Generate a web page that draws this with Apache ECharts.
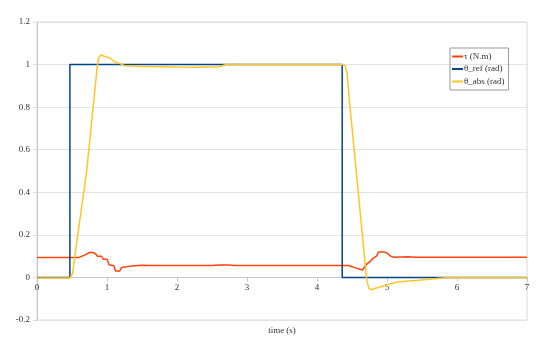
<!DOCTYPE html>
<html>
<head>
<meta charset="utf-8">
<script src="https://cdn.jsdelivr.net/npm/echarts@6/dist/echarts.min.js"></script>
<style>
  html, body { margin: 0; padding: 0; background: #fff; }
  #chart { width: 550px; height: 338px; }
</style>
</head>
<body>
<div id="chart"></div>
<script>
// step reference angle
const tRef = [0, 0.47, 0.47, 4.36, 4.36, 7];
const thetaRef = [0, 0, 1, 1, 0, 0];

// measured angle
const tAbs = [0, 0.47, 0.49, 0.51, 0.54, 0.71, 0.86, 0.88, 0.91, 0.95, 1.0, 1.05, 1.08, 1.11, 1.16, 1.2, 1.26, 1.5, 2.0, 2.3, 2.6, 2.7, 3.0, 4.37,
  4.4, 4.43, 4.46, 4.71, 4.74, 4.77, 4.82, 4.9, 5.0, 5.05, 5.15, 5.3, 5.45, 5.6, 5.75, 5.85, 7];
const thetaAbs = [-0.003, -0.003, 0.0, 0.02, 0.1, 0.5, 0.99, 1.03, 1.045, 1.04, 1.035, 1.03, 1.02, 1.012, 1.008, 1.003, 0.994, 0.991, 0.989, 0.988, 0.99, 1.0, 1.0, 1.0,
  0.995, 0.96, 0.84, -0.01, -0.05, -0.058, -0.052, -0.045, -0.035, -0.03, -0.022, -0.017, -0.013, -0.008, -0.004, -0.002, -0.002];

// torque
const tTau = [0, 0.6, 0.62, 0.68, 0.7, 0.75, 0.8, 0.84, 0.86, 0.92, 0.95, 1.0, 1.03, 1.1, 1.12, 1.18, 1.21, 1.28, 1.35, 1.5, 1.6,
  2.5, 2.6, 2.75, 2.8, 4.45, 4.5, 4.55, 4.6, 4.65, 4.68, 4.72, 4.76, 4.8, 4.85, 4.88, 4.95, 5.0, 5.05, 5.1, 5.3, 5.4, 7];
const tau = [0.094, 0.094, 0.1, 0.105, 0.112, 0.117, 0.117, 0.11, 0.1, 0.1, 0.085, 0.085, 0.06, 0.055, 0.03, 0.03, 0.047, 0.05, 0.054, 0.057, 0.056,
  0.056, 0.058, 0.058, 0.056, 0.056, 0.05, 0.045, 0.04, 0.035, 0.05, 0.065, 0.075, 0.09, 0.1, 0.12, 0.12, 0.115, 0.1, 0.095, 0.097, 0.095, 0.095];

const names = ['τ (N.m)', 'θ_ref (rad)', 'θ_abs (rad)'];
const colors = ['#ff420e', '#004586', '#ffc526'];

const pairs = (xs, ys) => xs.map((x, i) => [x, ys[i]]);
const font = '"Liberation Serif", "DejaVu Serif", serif';

let chart = echarts.init(document.getElementById('chart'));
chart.setOption({
  animation: false,
  color: colors,
  textStyle: { fontFamily: font },
  grid: {
    left: 37, right: 23, top: 22, bottom: 18, containLabel: false, outerBoundsMode: 'none',
    show: true, borderColor: '#d8d8d8', borderWidth: 1
  },
  legend: {
    orient: 'vertical',
    left: 450, top: 48,
    padding: [4, 4, 4, 2],
    itemGap: 3.5,
    itemWidth: 11, itemHeight: 2,
    icon: 'rect',
    borderColor: '#999', borderWidth: 1,
    textStyle: { fontFamily: font, fontSize: 9, color: '#333', padding: [0, 0, 0, -4] },
    data: names
  },
  xAxis: {
    type: 'value', min: 0, max: 7, interval: 1,
    // axis sits on the y = 0 line (0.2 below it is the grid bottom)
    offset: -42.5,
    name: 'time (s)', nameLocation: 'middle', nameGap: 49,
    nameTextStyle: { fontFamily: font, fontSize: 9, color: '#333' },
    axisLine: { onZero: false, lineStyle: { color: '#c8c8c8' } },
    axisTick: { show: true, length: 4, lineStyle: { color: '#c8c8c8' } },
    axisLabel: { fontSize: 9, color: '#333', margin: 6 },
    splitLine: { show: false }
  },
  yAxis: {
    type: 'value', min: -0.2, max: 1.2, interval: 0.2,
    axisLine: { show: true, lineStyle: { color: '#c8c8c8' } },
    axisTick: { show: true, length: 4, lineStyle: { color: '#dcdcdc' } },
    axisLabel: { fontSize: 9, color: '#333', margin: 7, formatter: v => String(Math.round(v * 10) / 10) },
    splitLine: { lineStyle: { color: '#e2e2e2' } }
  },
  series: [
    { name: names[0], type: 'line', data: pairs(tTau, tau), showSymbol: false, lineStyle: { width: 1.5 } },
    { name: names[1], type: 'line', data: pairs(tRef, thetaRef), showSymbol: false, lineStyle: { width: 1.5 } },
    { name: names[2], type: 'line', data: pairs(tAbs, thetaAbs), showSymbol: false, lineStyle: { width: 1.5 } }
  ]
});
</script>
</body>
</html>
